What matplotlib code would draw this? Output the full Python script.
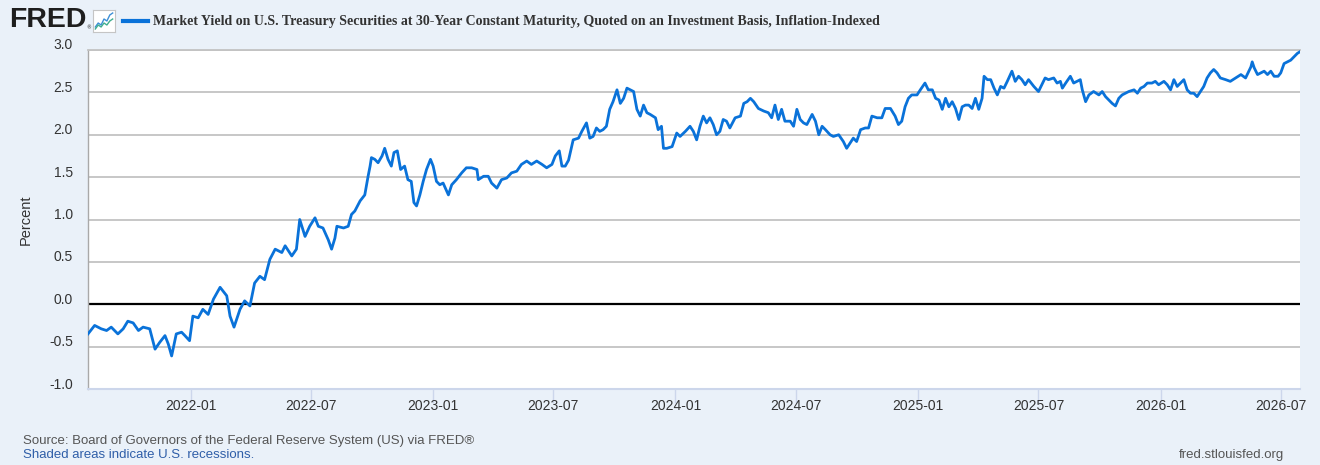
import numpy as np
import pandas as pd
import matplotlib
matplotlib.use("Agg")
import matplotlib.pyplot as plt
import matplotlib.dates as mdates
from matplotlib.lines import Line2D
from matplotlib.transforms import ScaledTranslation

# values (DFII30), roughly every 5-8 days
dates = [
    "2021-07-30", "2021-08-09", "2021-08-19", "2021-08-27", "2021-09-03", "2021-09-13",
    "2021-09-21", "2021-09-28", "2021-10-06", "2021-10-14", "2021-10-21", "2021-10-31",
    "2021-11-08", "2021-11-15", "2021-11-23", "2021-11-28", "2021-12-03", "2021-12-10",
    "2021-12-18", "2021-12-23", "2021-12-30", "2022-01-04", "2022-01-12", "2022-01-19",
    "2022-01-27", "2022-02-04", "2022-02-14", "2022-02-24", "2022-03-01", "2022-03-07",
    "2022-03-16", "2022-03-23", "2022-03-31", "2022-04-07", "2022-04-15", "2022-04-22",
    "2022-04-30", "2022-05-08", "2022-05-18", "2022-05-23", "2022-06-02", "2022-06-09",
    "2022-06-14", "2022-06-22", "2022-06-29", "2022-07-07", "2022-07-12", "2022-07-19",
    "2022-07-27", "2022-08-01", "2022-08-06", "2022-08-09", "2022-08-19", "2022-08-26",
    "2022-08-31", "2022-09-05", "2022-09-13", "2022-09-20", "2022-09-25", "2022-09-28",
    "2022-09-30", "2022-10-05", "2022-10-10", "2022-10-16", "2022-10-20", "2022-10-25",
    "2022-10-30", "2022-11-03", "2022-11-08", "2022-11-13", "2022-11-19", "2022-11-24",
    "2022-11-29", "2022-12-03", "2022-12-07", "2022-12-12", "2022-12-17", "2022-12-22",
    "2022-12-28", "2023-01-01", "2023-01-06", "2023-01-11", "2023-01-16", "2023-01-24",
    "2023-01-29", "2023-02-05", "2023-02-13", "2023-02-20", "2023-02-28", "2023-03-08",
    "2023-03-10", "2023-03-18", "2023-03-25", "2023-03-30", "2023-04-07", "2023-04-14",
    "2023-04-22", "2023-04-29", "2023-05-07", "2023-05-14", "2023-05-22", "2023-05-29",
    "2023-06-06", "2023-06-14", "2023-06-21", "2023-06-29", "2023-07-04", "2023-07-10",
    "2023-07-14", "2023-07-19", "2023-07-24", "2023-07-31", "2023-08-08", "2023-08-13",
    "2023-08-20", "2023-08-25", "2023-08-30", "2023-09-04", "2023-09-09", "2023-09-14",
    "2023-09-19", "2023-09-24", "2023-09-29", "2023-10-05", "2023-10-10", "2023-10-15",
    "2023-10-20", "2023-10-25", "2023-10-30", "2023-11-04", "2023-11-09", "2023-11-14",
    "2023-11-19", "2023-11-24", "2023-12-02", "2023-12-06", "2023-12-11", "2023-12-14",
    "2023-12-19", "2023-12-27", "2024-01-03", "2024-01-08", "2024-01-16", "2024-01-23",
    "2024-01-28", "2024-02-02", "2024-02-07", "2024-02-12", "2024-02-17", "2024-02-22",
    "2024-02-27", "2024-03-03", "2024-03-08", "2024-03-13", "2024-03-18", "2024-03-23",
    "2024-03-31", "2024-04-08", "2024-04-13", "2024-04-18", "2024-04-23", "2024-04-28",
    "2024-05-05", "2024-05-13", "2024-05-20", "2024-05-25", "2024-05-30", "2024-06-04",
    "2024-06-09", "2024-06-14", "2024-06-22", "2024-06-27", "2024-07-02", "2024-07-07",
    "2024-07-12", "2024-07-17", "2024-07-25", "2024-07-30", "2024-08-04", "2024-08-09",
    "2024-08-14", "2024-08-21", "2024-08-26", "2024-09-03", "2024-09-10", "2024-09-15",
    "2024-09-20", "2024-09-25", "2024-09-30", "2024-10-06", "2024-10-13", "2024-10-18",
    "2024-10-23", "2024-10-31", "2024-11-07", "2024-11-12", "2024-11-20", "2024-11-27",
    "2024-12-02", "2024-12-07", "2024-12-12", "2024-12-17", "2024-12-22", "2024-12-30",
    "2025-01-04", "2025-01-11", "2025-01-16", "2025-01-22", "2025-01-27", "2025-02-01",
    "2025-02-06", "2025-02-11", "2025-02-16", "2025-02-21", "2025-02-26", "2025-03-03",
    "2025-03-08", "2025-03-13", "2025-03-18", "2025-03-23", "2025-03-28", "2025-04-02",
    "2025-04-07", "2025-04-10", "2025-04-15", "2025-04-20", "2025-04-25", "2025-04-30",
    "2025-05-05", "2025-05-10", "2025-05-15", "2025-05-22", "2025-05-27", "2025-06-01",
    "2025-06-06", "2025-06-11", "2025-06-16", "2025-06-24", "2025-07-01", "2025-07-06",
    "2025-07-11", "2025-07-16", "2025-07-24", "2025-07-29", "2025-08-03", "2025-08-06",
    "2025-08-11", "2025-08-18", "2025-08-23", "2025-08-28", "2025-09-02", "2025-09-05",
    "2025-09-10", "2025-09-15", "2025-09-22", "2025-09-30", "2025-10-05", "2025-10-10",
    "2025-10-15", "2025-10-20", "2025-10-25", "2025-10-30", "2025-11-04", "2025-11-09",
    "2025-11-14", "2025-11-22", "2025-11-27", "2025-12-02", "2025-12-07", "2025-12-12",
    "2025-12-19", "2025-12-24", "2025-12-29", "2026-01-06", "2026-01-11", "2026-01-16",
    "2026-01-21", "2026-01-26", "2026-01-31", "2026-02-05", "2026-02-10", "2026-02-15",
    "2026-02-20", "2026-02-25", "2026-03-02", "2026-03-07", "2026-03-12", "2026-03-17",
    "2026-03-22", "2026-03-27", "2026-04-01", "2026-04-09", "2026-04-16", "2026-04-24",
    "2026-05-02", "2026-05-09", "2026-05-17", "2026-05-19", "2026-05-22", "2026-05-27",
    "2026-06-01", "2026-06-06", "2026-06-11", "2026-06-16", "2026-06-21", "2026-06-27",
    "2026-07-01", "2026-07-06", "2026-07-11", "2026-07-16", "2026-07-21", "2026-07-26",
    "2026-07-30",
]
yields = [
    -0.35, -0.25, -0.29, -0.31, -0.27, -0.35,
    -0.29, -0.20, -0.22, -0.31, -0.27, -0.29,
    -0.53, -0.45, -0.37, -0.47, -0.61, -0.35,
    -0.33, -0.37, -0.43, -0.14, -0.16, -0.06,
    -0.12, 0.06, 0.20, 0.10, -0.14, -0.27,
    -0.06, 0.04, -0.02, 0.25, 0.33, 0.29,
    0.53, 0.65, 0.61, 0.69, 0.57, 0.65,
    1.00, 0.80, 0.92, 1.02, 0.92, 0.90,
    0.76, 0.65, 0.78, 0.92, 0.90, 0.92,
    1.06, 1.10, 1.22, 1.29, 1.51, 1.63,
    1.73, 1.71, 1.67, 1.75, 1.84, 1.71,
    1.63, 1.79, 1.81, 1.59, 1.63, 1.47,
    1.45, 1.20, 1.16, 1.29, 1.45, 1.59,
    1.71, 1.63, 1.45, 1.41, 1.43, 1.29,
    1.41, 1.47, 1.55, 1.61, 1.61, 1.59,
    1.47, 1.51, 1.51, 1.43, 1.37, 1.47,
    1.49, 1.55, 1.57, 1.65, 1.69, 1.65,
    1.69, 1.65, 1.61, 1.65, 1.75, 1.81,
    1.63, 1.63, 1.70, 1.94, 1.96, 2.04,
    2.14, 1.96, 1.98, 2.08, 2.04, 2.06,
    2.10, 2.30, 2.39, 2.53, 2.37, 2.43,
    2.55, 2.53, 2.51, 2.30, 2.22, 2.35,
    2.26, 2.24, 2.20, 2.06, 2.10, 1.84,
    1.84, 1.86, 2.02, 1.98, 2.04, 2.10,
    2.04, 1.94, 2.10, 2.22, 2.14, 2.20,
    2.12, 2.00, 2.04, 2.18, 2.16, 2.08,
    2.20, 2.22, 2.37, 2.39, 2.43, 2.39,
    2.31, 2.28, 2.26, 2.20, 2.35, 2.18,
    2.30, 2.16, 2.16, 2.10, 2.30, 2.18,
    2.14, 2.12, 2.24, 2.16, 2.00, 2.10,
    2.06, 2.00, 1.98, 2.00, 1.92, 1.84,
    1.90, 1.96, 1.92, 2.06, 2.08, 2.08,
    2.22, 2.20, 2.20, 2.31, 2.31, 2.22,
    2.12, 2.16, 2.33, 2.43, 2.47, 2.47,
    2.53, 2.61, 2.53, 2.53, 2.43, 2.41,
    2.30, 2.43, 2.33, 2.39, 2.31, 2.18,
    2.33, 2.35, 2.35, 2.31, 2.43, 2.30,
    2.43, 2.69, 2.65, 2.65, 2.55, 2.47,
    2.57, 2.55, 2.63, 2.75, 2.63, 2.69,
    2.65, 2.59, 2.65, 2.57, 2.51, 2.59,
    2.67, 2.65, 2.67, 2.61, 2.63, 2.55,
    2.61, 2.69, 2.61, 2.63, 2.65, 2.53,
    2.39, 2.47, 2.51, 2.47, 2.51, 2.45,
    2.41, 2.37, 2.34, 2.43, 2.47, 2.49,
    2.51, 2.53, 2.49, 2.55, 2.57, 2.61,
    2.61, 2.63, 2.59, 2.63, 2.59, 2.53,
    2.65, 2.57, 2.61, 2.65, 2.53, 2.49,
    2.49, 2.45, 2.51, 2.57, 2.67, 2.73,
    2.77, 2.73, 2.67, 2.65, 2.63, 2.67,
    2.71, 2.67, 2.80, 2.86, 2.79, 2.71,
    2.73, 2.75, 2.71, 2.75, 2.69, 2.69,
    2.73, 2.84, 2.86, 2.88, 2.92, 2.96,
    2.98,
]

y_ticks = [-1.0, -0.5, 0.0, 0.5, 1.0, 1.5, 2.0, 2.5, 3.0]
x_ticks = ["2022-01", "2022-07", "2023-01", "2023-07", "2024-01",
           "2024-07", "2025-01", "2025-07", "2026-01", "2026-07"]

title = ("Market Yield on U.S. Treasury Securities at 30-Year Constant Maturity, "
         "Quoted on an Investment Basis, Inflation-Indexed")

BG = "#eaf1f9"
LINE = "#0a72d9"
GRID = "#c3c3c3"

df = pd.DataFrame({"date": pd.to_datetime(dates), "value": yields})

fig = plt.figure(figsize=(13.2, 4.65), dpi=100, facecolor=BG)
ax = fig.add_axes([88 / 1320, 1 - 389 / 465, 1212 / 1320, 339 / 465])
ax.set_facecolor("white")

ax.plot(df["date"], df["value"], color=LINE, lw=2.0, solid_joinstyle="round", zorder=3)
ax.axhline(0, color="black", lw=1.6, zorder=2)

ax.set_xlim(df["date"].iloc[0], df["date"].iloc[-1])
ax.set_ylim(-1.0, 3.0)

# y axis: labels sit a bit above their gridlines, FRED style
ax.set_yticks(y_ticks)
ax.set_yticklabels([f"{t:.1f}" for t in y_ticks])
ax.yaxis.grid(True, color=GRID, lw=1.3, zorder=1)
ax.tick_params(axis="y", length=0, pad=10.8, labelsize=10, labelcolor="#333333")
shift = ScaledTranslation(0, 6 / 100, fig.dpi_scale_trans)
for lab in ax.get_yticklabels():
    lab.set_transform(lab.get_transform() + shift)
    lab.set_fontfamily("Liberation Sans")
ax.set_ylabel("Percent", fontsize=10.5, color="#333333", family="Liberation Sans", labelpad=12)

ax.set_xticks(pd.to_datetime(x_ticks))
ax.xaxis.set_major_formatter(mdates.DateFormatter("%Y-%m"))
ax.tick_params(axis="x", length=10, width=1, color="#ccd6eb", pad=-3,
               labelsize=10, labelcolor="#333333")
for lab in ax.get_xticklabels():
    lab.set_fontfamily("Liberation Sans")

ax.spines["right"].set_visible(False)
ax.spines["top"].set_color(GRID)
ax.spines["top"].set_linewidth(1.3)
ax.spines["left"].set_color("#a9a9a9")
ax.spines["left"].set_linewidth(1.0)
ax.spines["bottom"].set_color("#ccd6eb")
ax.spines["bottom"].set_linewidth(1.5)

# header: logo, small icon, legend key and series title
fig.text(9 / 1320, 1 - 20 / 465, "FRED", fontsize=20.5, fontweight="heavy",
         family="Liberation Sans", color="#1e1e1e", va="center", ha="left")
fig.text(86.5 / 1320, 1 - 28 / 465, "®", fontsize=3.5, color="#1e1e1e", va="center")

icon = fig.add_axes([93 / 1320, 1 - 32 / 465, 22 / 1320, 22 / 465])
icon.set_facecolor("white")
icon_blue = [1, 3, 2, 5, 4, 7, 8]
icon_green = [0, 2, 1, 3, 2, 4, 5]
icon.plot(icon_blue, color="#3d8fd6", lw=1)
icon.plot(icon_green, color="#3fae8f", lw=1)
icon.set_xlim(-0.8, 6.8)
icon.set_ylim(-1.5, 9.5)
icon.set_xticks([])
icon.set_yticks([])
for s in icon.spines.values():
    s.set_color("#c5c5c5")
    s.set_linewidth(0.8)

fig.add_artist(Line2D([123 / 1320, 148 / 1320], [1 - 21 / 465, 1 - 21 / 465],
                      color=LINE, lw=3, transform=fig.transFigure))
fig.text(153 / 1320, 1 - 21 / 465, title, fontsize=10, fontweight="bold",
         family="Liberation Serif", color="#333333", va="center", ha="left")

# footer
fig.text(23 / 1320, 1 - 441 / 465,
         "Source: Board of Governors of the Federal Reserve System (US) via FRED®",
         fontsize=9.5, family="Liberation Sans", color="#555555", va="center")
fig.text(23 / 1320, 1 - 455 / 465, "Shaded areas indicate U.S. recessions.",
         fontsize=9.5, family="Liberation Sans", color="#2f5ea8", va="center")
fig.text(1284 / 1320, 1 - 455 / 465, "fred.stlouisfed.org",
         fontsize=9.5, family="Liberation Sans", color="#555555", va="center", ha="right")

fig.savefig("out.png", dpi=100, facecolor=BG)
